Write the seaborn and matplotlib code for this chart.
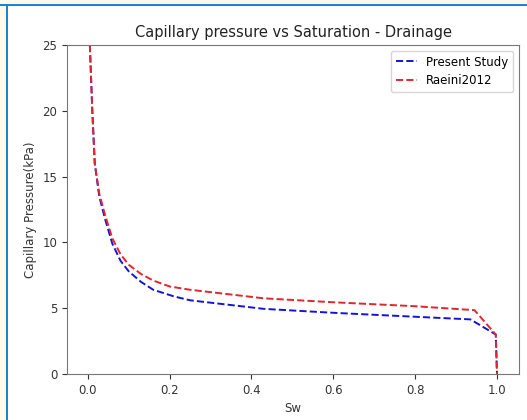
import seaborn as sns
import matplotlib.pyplot as plt
import pandas as pd
from matplotlib.patches import Rectangle

# values
sw_present = [0.005, 0.011, 0.017, 0.028, 0.042, 0.06, 0.08, 0.10, 0.13, 0.16,
              0.21, 0.25, 0.43, 0.60, 0.80, 0.935, 0.997, 1.0]
pc_present = [25.0, 20.0, 16.0, 13.5, 11.8, 9.9, 8.6, 7.8, 7.0, 6.4,
              5.9, 5.6, 4.95, 4.65, 4.35, 4.15, 3.0, 0.0]

sw_raeini = [0.005, 0.011, 0.017, 0.028, 0.042, 0.06, 0.08, 0.10, 0.13, 0.16,
             0.20, 0.25, 0.43, 0.60, 0.80, 0.945, 0.997, 1.0]
pc_raeini = [25.0, 20.0, 16.0, 13.7, 12.1, 10.3, 9.1, 8.3, 7.6, 7.1,
             6.65, 6.4, 5.75, 5.45, 5.15, 4.85, 3.0, 0.0]

df_present = pd.DataFrame({"Sw": sw_present, "Pc": pc_present})
df_raeini = pd.DataFrame({"Sw": sw_raeini, "Pc": pc_raeini})

fig = plt.figure(figsize=(5.27, 4.2), dpi=100, facecolor="white")

# screenshot frame: cream margin + blue edge on top and left
fig.patches.append(Rectangle((0, 0.9905), 1, 0.0095, transform=fig.transFigure,
                             facecolor="#fffbea", edgecolor="none", zorder=0))
fig.patches.append(Rectangle((0, 0), 0.0114, 1, transform=fig.transFigure,
                             facecolor="#fffbea", edgecolor="none", zorder=0))
fig.patches.append(Rectangle((0, 0.9857), 1, 0.0048, transform=fig.transFigure,
                             facecolor="#1a86d0", edgecolor="none", zorder=1))
fig.patches.append(Rectangle((0.0114, 0), 0.0038, 0.9905, transform=fig.transFigure,
                             facecolor="#1a86d0", edgecolor="none", zorder=1))

ax = fig.add_axes([0.127, 0.1095, 0.858, 0.7835])

sns.lineplot(df_present, x="Sw", y="Pc", ax=ax, color="#1414d8", linestyle="--",
             linewidth=1.4, label="Present Study", sort=False)
sns.lineplot(df_raeini, x="Sw", y="Pc", ax=ax, color="#e0262c", linestyle="--",
             linewidth=1.4, label="Raeini2012", sort=False)

ax.set_ylim(0, 25)
ax.set_xlim(-0.051, 1.054)
ax.set_xticks([0.0, 0.2, 0.4, 0.6, 0.8, 1.0])
ax.set_yticks([0, 5, 10, 15, 20, 25])
ax.set_xlabel("Sw", fontsize=8.5, color="#333333")
ax.set_ylabel("Capillary Pressure(kPa)", fontsize=8.5, color="#333333")
ax.set_title("Capillary pressure vs Saturation - Drainage", fontsize=10.5, color="#222222")
ax.tick_params(labelsize=8.5, colors="#333333", length=3.5)
for s in ax.spines.values():
    s.set_color("#777777")
ax.legend(loc="upper right", fontsize=8.5, handlelength=1.8)

fig.savefig("out.png", dpi=100)
